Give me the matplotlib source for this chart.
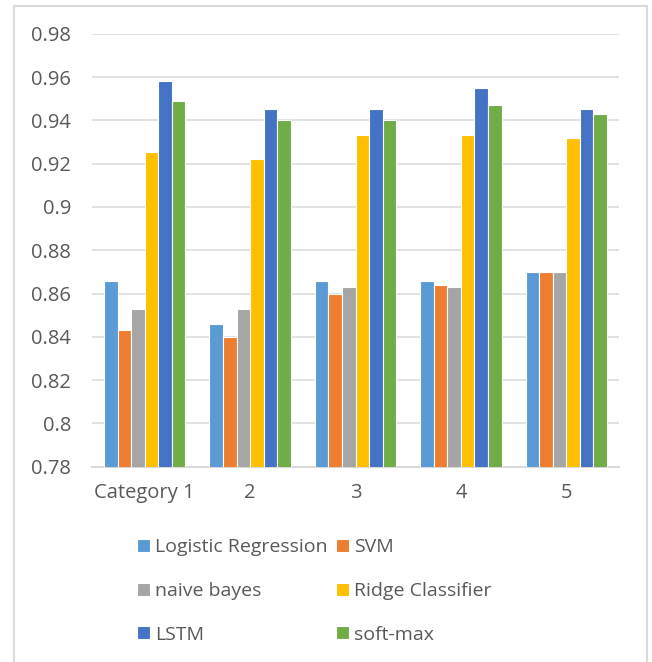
import matplotlib.pyplot as plt
import matplotlib.patches as mpatches
import numpy as np

plt.rcParams['font.family'] = ['Open Sans', 'DejaVu Sans']

categories = ["Category 1", "2", "3", "4", "5"]
models = ["Logistic Regression", "SVM", "naive bayes", "Ridge Classifier", "LSTM", "soft-max"]
colors = ["#5B9BD5", "#ED7D31", "#A5A5A5", "#FFC000", "#4472C4", "#70AD47"]

logistic = [0.866, 0.846, 0.866, 0.866, 0.870]
svm = [0.843, 0.840, 0.860, 0.864, 0.870]
naive_bayes = [0.853, 0.853, 0.863, 0.863, 0.870]
ridge = [0.9255, 0.922, 0.933, 0.933, 0.932]
lstm = [0.958, 0.945, 0.945, 0.955, 0.945]
softmax = [0.949, 0.940, 0.940, 0.947, 0.943]
series = [logistic, svm, naive_bayes, ridge, lstm, softmax]

W, H = 652, 662
fig = plt.figure(figsize=(W / 100, H / 100), dpi=100)
ax = fig.add_axes([92 / W, (H - 466.7) / H, 527 / W, 433 / H])

# chart area outline (bottom edge runs off the image)
fig.patches.append(mpatches.Rectangle((14 / W, -0.02), 633 / W, (H - 6) / H + 0.02,
                                      transform=fig.transFigure, fill=False,
                                      edgecolor="#D9D9D9", linewidth=1.5))

x = np.arange(len(categories))
bw = 0.1287
bars = []
for i, (vals, c) in enumerate(zip(series, colors)):
    b = ax.bar(x + (i - 2.5) * bw, vals, bw, color=c, edgecolor="white",
               linewidth=0.8, zorder=3)
    bars.append(b)

ax.set_ylim(0.78, 0.98)
ax.set_xlim(-0.5, len(categories) - 0.5)
ax.set_yticks(np.arange(0.78, 0.981, 0.02))
ax.set_yticklabels(["0.78", "0.8", "0.82", "0.84", "0.86", "0.88", "0.9",
                    "0.92", "0.94", "0.96", "0.98"])
ax.set_xticks(x)
ax.set_xticklabels(categories)
ax.yaxis.grid(True, color="#D9D9D9", linewidth=1.1, zorder=0)
ax.set_axisbelow(True)
for s in ["top", "right", "left"]:
    ax.spines[s].set_visible(False)
ax.spines["bottom"].set_color("#D9D9D9")
ax.spines["bottom"].set_linewidth(1.5)
ax.tick_params(axis="both", length=0, labelsize=14.5, colors="#595959")
ax.tick_params(axis="y", pad=15)
ax.tick_params(axis="x", pad=12)

# legend filled row by row: two columns
order = [0, 2, 4, 1, 3, 5]
fig.legend([bars[i] for i in order], [models[i] for i in order],
           loc="upper left", bbox_to_anchor=(137 / W, (H - 538) / H),
           ncol=2, frameon=False, fontsize=14, labelcolor="#595959",
           handlelength=0.65, handleheight=0.65, handletextpad=0.3,
           columnspacing=0.4, labelspacing=1.33, borderpad=0, borderaxespad=0)

fig.savefig("out.png", dpi=100)
